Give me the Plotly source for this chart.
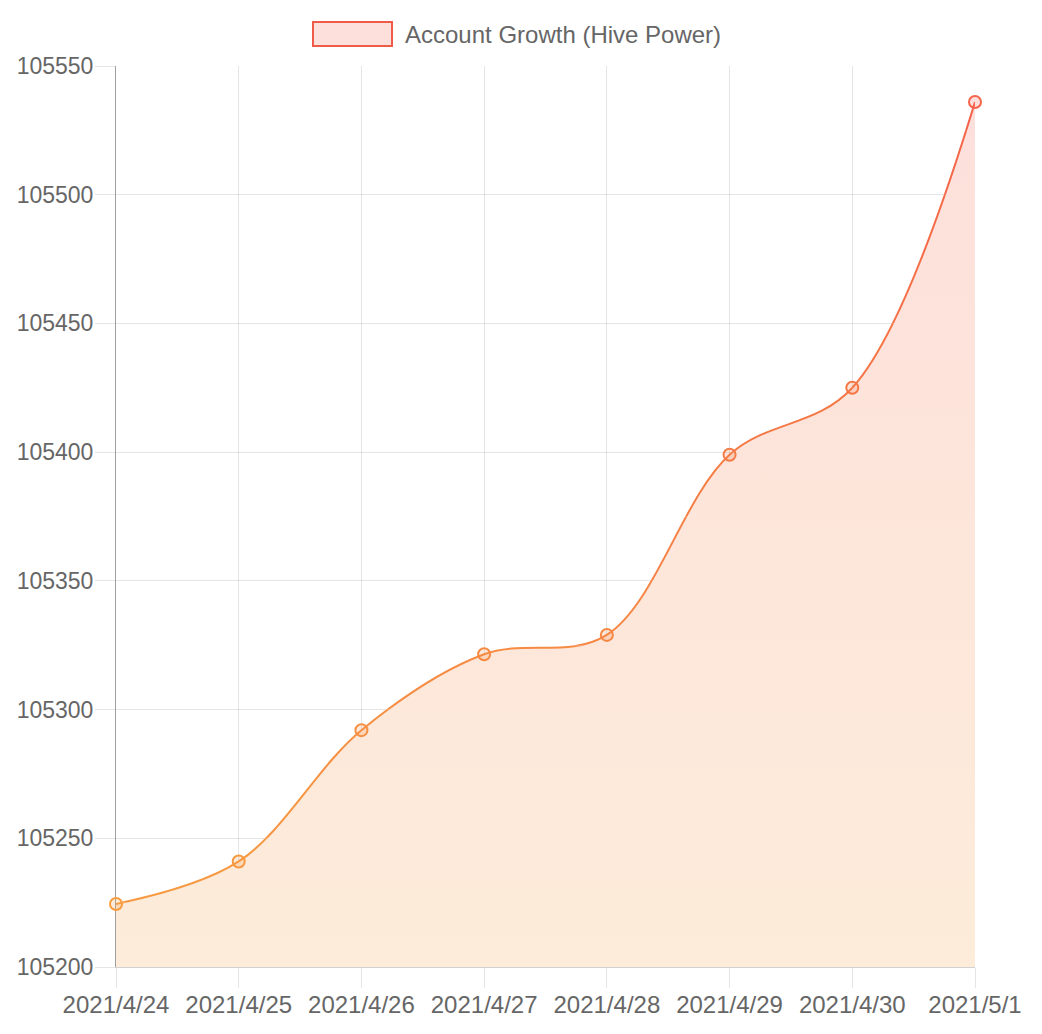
import plotly.graph_objects as go

dates = ["2021/4/24", "2021/4/25", "2021/4/26", "2021/4/27", "2021/4/28", "2021/4/29", "2021/4/30", "2021/5/1"]
hive_power = [105224.5, 105241, 105292, 105321.5, 105329, 105399, 105425, 105536]
series_name = "Account Growth (Hive Power)"
y_ticks = [105200, 105250, 105300, 105350, 105400, 105450, 105500, 105550]

Y_MIN, Y_MAX = 105200, 105550
LINE_LO = (247, 160, 64)
LINE_HI = (244, 96, 74)
FILL_LO = (253, 236, 218)
FILL_HI = (253, 223, 219)


def mix(a, b, t):
    return "rgb(%d,%d,%d)" % tuple(round(a[i] + (b[i] - a[i]) * t) for i in range(3))


def rgba(c, a):
    return "rgba(%d,%d,%d,%s)" % (c[0], c[1], c[2], a)


FONT = "Liberation Sans, Arial, sans-serif"
TXT = "#666666"
GRID = "rgba(0,0,0,0.1)"

fig = go.Figure()

# filled area with vertical gradient
fig.add_trace(go.Scatter(
    x=dates, y=hive_power, mode="lines", line=dict(width=0, shape="spline", smoothing=1),
    fill="tozeroy",
    fillgradient=dict(type="vertical", start=Y_MIN, stop=Y_MAX,
                      colorscale=[[0, mix(FILL_LO, FILL_HI, 0)], [1, mix(FILL_LO, FILL_HI, 1)]]),
    showlegend=False, hoverinfo="skip", xaxis="x", yaxis="y",
))

# line drawn in horizontal bands to give it a vertical colour gradient
N_BANDS = 14
step = (Y_MAX - Y_MIN) / N_BANDS
layout_axes = {
    "xaxis2": dict(type="category", range=[0, len(dates) - 1], domain=[0, 1],
                   anchor="y2", visible=False, showgrid=False, matches="x", automargin=False),
}
for k in range(N_BANDS):
    ax_id = k + 2
    t = (k + 0.5) / N_BANDS
    fig.add_trace(go.Scatter(
        x=dates, y=hive_power, mode="lines",
        line=dict(width=2, color=mix(LINE_LO, LINE_HI, t), shape="spline", smoothing=1),
        showlegend=False, hoverinfo="skip", xaxis="x2", yaxis="y%d" % ax_id,
    ))
    layout_axes["yaxis%d" % ax_id] = dict(
        domain=[k / N_BANDS, (k + 1) / N_BANDS],
        range=[Y_MIN + k * step, Y_MIN + (k + 1) * step],
        anchor="x2", visible=False, showgrid=False, fixedrange=True, automargin=False,
    )

# markers on top
mk_id = N_BANDS + 2
fig.add_trace(go.Scatter(
    x=dates, y=hive_power, mode="markers", name=series_name, cliponaxis=False,
    marker=dict(
        symbol="circle", size=12,
        color=hive_power, cmin=Y_MIN, cmax=Y_MAX, showscale=False,
        colorscale=[[0, rgba(LINE_LO, 0.2)], [1, rgba(LINE_HI, 0.2)]],
        line=dict(width=2, color=hive_power, cmin=Y_MIN, cmax=Y_MAX,
                  colorscale=[[0, mix(LINE_LO, LINE_HI, 0)], [1, mix(LINE_LO, LINE_HI, 1)]]),
    ),
    showlegend=False, xaxis="x2", yaxis="y%d" % mk_id,
))
layout_axes["yaxis%d" % mk_id] = dict(domain=[0, 1], range=[Y_MIN, Y_MAX], anchor="x2",
                                      visible=False, showgrid=False, automargin=False)

# page has an 8px body margin
OFF = 8
W, H = 1034, 1026
L, R, T, B = 116 - OFF, 67, 66 - OFF, 67
pw, ph = W - L - R, H - T - B


def px(xp):
    return (xp - OFF - L) / pw


def py(yp):
    return (H - B - (yp - OFF)) / ph


fig.update_layout(
    width=W, height=H, autosize=False,
    margin=dict(l=L, r=R, t=T, b=B, pad=0, autoexpand=False),
    paper_bgcolor="white", plot_bgcolor="rgba(0,0,0,0)",
    font=dict(family=FONT, size=23, color=TXT),
    showlegend=False,
    xaxis=dict(
        type="category", range=[0, len(dates) - 1], domain=[0, 1], anchor="y",
        showgrid=True, gridcolor=GRID, gridwidth=1,
        ticks="outside", ticklen=20, tickcolor=GRID, tickwidth=1,
        ticklabelstandoff=-4, automargin=False,
        showline=True, linecolor="rgba(0,0,0,0.18)", linewidth=1,
        zeroline=False, tickfont=dict(size=24, color=TXT, family=FONT),
    ),
    yaxis=dict(
        range=[Y_MIN, Y_MAX], domain=[0, 1], anchor="x", automargin=False,
        tickvals=y_ticks, ticktext=[str(v) for v in y_ticks],
        showgrid=True, gridcolor=GRID, gridwidth=1,
        ticks="outside", ticklen=20, tickcolor=GRID, tickwidth=1,
        ticklabelstandoff=-3,
        showline=True, linecolor="#a0a0a0", linewidth=1,
        zeroline=False, tickfont=dict(size=23, color=TXT, family=FONT),
    ),
    **layout_axes,
)

# legend drawn as a box + text (Chart.js style)
fig.add_shape(type="rect", xref="paper", yref="paper",
              x0=px(313), x1=px(392), y0=py(46), y1=py(22),
              fillcolor="#fde0db", line=dict(color="#f05a48", width=2))
fig.add_annotation(text=series_name, xref="paper", yref="paper",
                   x=px(403), y=py(34), xanchor="left", yanchor="middle",
                   showarrow=False, font=dict(size=24, color=TXT, family=FONT))

fig.write_html("out.html")
